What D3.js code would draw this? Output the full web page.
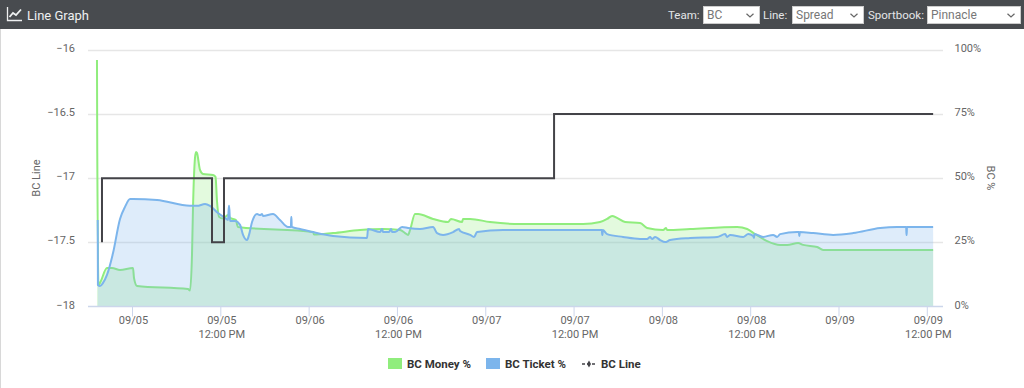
<!DOCTYPE html>
<html>
<head>
<meta charset="utf-8">
<script src="https://cdn.jsdelivr.net/npm/d3@7"></script>
<style>
html,body{margin:0;padding:0;background:#fff;width:1024px;height:388px;overflow:hidden;font-family:Roboto,sans-serif}
#bar{position:absolute;left:0;top:0;width:1024px;height:29px;background:#484b4f}
#title{position:absolute;left:27px;top:8px;color:#eef0f1;font-size:13px;line-height:16px}
.lab{position:absolute;top:8px;color:#e4e6e8;font-size:11.5px;line-height:15px}
select{position:absolute;top:6px;height:18px;font:12px Roboto,sans-serif;color:#777;border:1px solid #ccc;border-radius:0;padding:0 0 0 3px;margin:0;box-sizing:border-box;appearance:none;-webkit-appearance:none;
background:#fff url("data:image/svg+xml,%3Csvg xmlns='http://www.w3.org/2000/svg' width='8' height='5'%3E%3Cpath d='M.5.7L4 4 7.500.7' fill='none' stroke='%23666' stroke-width='1.200'/%3E%3C/svg%3E") no-repeat right 5px center}
#edge{position:absolute;left:0;top:29px;width:1px;height:359px;background:#d8d8d8}
svg{position:absolute;left:0;top:0}
</style>
</head>
<body>
<div id="chart"></div>
<div id="bar">
  <svg width="24" height="29" style="left:6px"><path d="M1.500 7v13.500h14.500" fill="none" stroke="#eef0f1" stroke-width="1.300"/><path d="M3.500 17l3.500-4 3 2 5-5.500" fill="none" stroke="#eef0f1" stroke-width="1.800"/></svg>
  <div id="title">Line Graph</div>
  <div class="lab" style="left:668px">Team:</div>
  <select style="left:703px;width:57px"><option>BC</option></select>
  <div class="lab" style="left:763px">Line:</div>
  <select style="left:792px;width:72px"><option>Spread</option></select>
  <div class="lab" style="left:868px">Sportbook:</div>
  <select style="left:927px;width:94px"><option>Pinnacle</option></select>
</div>
<div id="edge"></div>
<script>
const moneyHours=[-4.76,-4.72,-4.55,-4.35,-3.40,-2.72,-1.63,0.14,0.27,0.68,7.61,7.88,8.15,8.29,8.56,8.70,8.83,9.24,9.65,11.0,11.35,11.55,11.82,12.37,13.05,13.32,14.13,14.27,14.40,24.6,24.73,27.32,30.99,34.11,36.43,37.10,37.51,37.78,38.46,38.87,40.91,42.95,43.35,44.85,44.98,45.94,48.65,52.73,61.29,63.6,64.56,65.23,65.91,67.0,69.04,69.99,72.17,72.57,72.71,75.84,82.23,83.59,84.67,86.3,88.07,89.02,90.51,91.19,93.1,93.91,108.86];
const moneyPct=[96.0,59.8,8.4,9.2,15.0,15.0,14.2,15.0,11.1,8.0,6.8,6.2,20.1,38.8,57.9,60.2,59.8,53.2,51.6,51.2,50.5,41,35,34.3,35.6,34.5,33.7,32,31.0,29.0,28.0,28.6,29.8,30.2,29.8,28.6,27.9,29.8,36.0,36.0,34.1,32.9,34.1,32.9,34.1,34.1,32.9,32.1,32.1,32.9,34.1,35.3,34.5,32.9,32.5,30.6,29.8,30.6,29.8,30.2,31.0,30.2,28.2,25.5,24.0,24.0,24.7,24.0,23.2,22.0,22.0];
const ticketHours=[-4.66,-4.63,-4.35,-3.94,-3.4,-2.58,-1.63,-0.95,-0.27,0.14,3.4,7.88,8.83,9.92,10.6,11.69,12.64,13.05,13.16,13.2,13.32,14.0,14.68,15.09,15.63,15.9,16.31,16.99,17.4,17.67,17.8,19.16,20.11,21.2,21.6,21.63,21.67,21.7,22.83,24.6,27.32,31.94,32.07,33.71,33.98,34.11,34.93,35.2,35.34,35.74,36.7,37.51,39.14,40.91,41.45,42.27,43.63,44.44,44.58,45.94,46.48,46.89,50.42,56.81,63.85,63.89,63.93,63.97,64.56,66.73,69.04,69.99,70.4,70.67,71.08,71.76,72.44,73.12,75.84,79.51,80.6,80.87,81.28,83.05,83.73,84.4,84.53,84.57,85.76,87.12,87.66,88.07,90.38,90.63,90.66,90.7,90.73,92.55,95.27,97.99,101.66,103.97,105.2,105.23,105.27,105.3,108.86];
const ticketPct=[33.7,8.4,8.0,9.2,12.3,20.8,34.1,38.8,41.9,41.9,41.5,39.2,39.2,39.9,39.2,36.4,34.5,33.7,39.2,39.2,33.3,33.3,31.8,27.9,25.9,27.9,32.9,36.0,35.6,36.0,35.3,36.0,33.7,31.0,31.0,34.9,34.9,31.0,30.2,29.0,27.5,26.7,30.2,29.0,30.2,29.0,29.0,30.2,29.0,29.0,31.0,30.6,30.2,31.0,28.6,27.9,29.0,30.2,29.4,27.9,27.1,29.0,29.8,29.8,29.8,27.9,27.9,29.8,28.2,27.1,26.3,26.3,27.1,26.3,27.1,25.9,25.1,25.9,26.7,27.1,28.2,27.1,27.9,27.1,28.2,27.5,26.7,28.2,27.1,27.9,27.1,28.2,29.0,29.0,27.5,27.5,29.0,28.6,27.9,28.6,30.6,31.0,31.0,27.9,27.9,31.0,31.0];
const lineHours=[-4.08,10.87,12.5,57.35,108.86];
const lineValues=[-17.5,-17,-17.5,-17,-16.5];
const leftTicks=[-16,-16.5,-17,-17.5,-18];
const rightTicks=[100,75,50,25,0];
const xTickHours=[0,12,24,36,48,60,72,84,96,108];
const legendItems=["BC Money %","BC Ticket %","BC Line"];

const base=new Date(2023,8,5,0,0,0);
const toDate=h=>new Date(base.getTime()+h*3600000);
const W=1024,H=388,L=88,R=943,T=49.8,B=306.5;
const x=d3.scaleTime().domain([toDate(-5.98),toDate(110.2)]).range([L,R]);
const yL=d3.scaleLinear().domain([-18,-16]).range([B,T]);
const yR=d3.scaleLinear().domain([0,100]).range([B,T]);
const svg=d3.select("#chart").append("svg").attr("width",W).attr("height",H);
const gridC="#e6e6e6",txt="#666",font="Roboto,sans-serif";

svg.append("g").selectAll("line").data(leftTicks.slice(0,4)).join("line")
  .attr("x1",L).attr("x2",R).attr("y1",d=>Math.round(yL(d))+.5).attr("y2",d=>Math.round(yL(d))+.5)
  .attr("stroke",gridC).attr("stroke-width",1.5);

const zip=(hs,vs)=>hs.map((h,i)=>({t:toDate(h),v:vs[i]}));
const curve=d3.curveMonotoneX;
const area=d3.area().x(d=>x(d.t)).y0(B).y1(d=>yR(d.v)).curve(curve);
const pline=d3.line().x(d=>x(d.t)).y(d=>yR(d.v)).curve(curve);
const money=zip(moneyHours,moneyPct),ticket=zip(ticketHours,ticketPct);
const cM="#90ed7d",cT="#7cb5ec",cL="#434348";

svg.append("path").attr("d",area(money)).attr("fill",cM).attr("fill-opacity",.25);
svg.append("path").attr("d",pline(money)).attr("fill","none").attr("stroke",cM).attr("stroke-width",2).attr("stroke-linejoin","round");
svg.append("path").attr("d",area(ticket)).attr("fill",cT).attr("fill-opacity",.25);
svg.append("path").attr("d",pline(ticket)).attr("fill","none").attr("stroke",cT).attr("stroke-width",2).attr("stroke-linejoin","round");
svg.append("path").datum(zip(lineHours,lineValues))
  .attr("d",d3.line().x(d=>x(d.t)).y(d=>yL(d.v)).curve(d3.curveStepBefore))
  .attr("fill","none").attr("stroke",cL).attr("stroke-width",2);

// x axis
const xAxis=d3.axisBottom(x).tickValues(xTickHours.map(toDate)).tickSize(10).tickPadding(3)
  .tickFormat(d3.timeFormat("%m/%d"));
const gx=svg.append("g").attr("transform",`translate(0,${B})`).call(xAxis);
gx.select(".domain").attr("d",`M${L},0H${R}`).attr("stroke","#ccd6eb").attr("stroke-width",1.500);
gx.selectAll(".tick line").attr("stroke","#ccd6eb");
gx.selectAll(".tick text").attr("fill",txt).style("font",`11px ${font}`).attr("dy",0)
  .each(function(d){
    const s=d3.select(this),label=d3.timeFormat("%m/%d")(d);
    s.text(null);
    s.append("tspan").attr("x",1).attr("y",17).text(label);
    if(d.getHours()===12) s.append("tspan").attr("x",1).attr("y",31).text(d3.timeFormat("%-I:%M %p")(d));
  });

// y axes
const minus=d=>String(d).replace("-","\u2212");
const gl=svg.append("g").attr("transform",`translate(${L},0)`)
  .call(d3.axisLeft(yL).tickValues(leftTicks).tickSize(0).tickPadding(13).tickFormat(minus));
gl.select(".domain").remove();
gl.selectAll("text").attr("fill",txt).style("font",`11px ${font}`).attr("dy","0.14em");
const gr=svg.append("g").attr("transform",`translate(${R},0)`)
  .call(d3.axisRight(yR).tickValues(rightTicks).tickSize(0).tickPadding(11.5).tickFormat(d=>d+"%"));
gr.select(".domain").remove();
gr.selectAll("text").attr("fill",txt).style("font",`11px ${font}`).attr("dy","0.14em");

svg.append("text").attr("transform","translate(40,178) rotate(-90)").attr("text-anchor","middle")
  .attr("fill",txt).style("font",`11px ${font}`).text("BC Line");
svg.append("text").attr("transform","translate(987,178) rotate(90)").attr("text-anchor","middle")
  .attr("fill",txt).style("font",`11px ${font}`).text("BC %");

// legend
const lg=svg.append("g").style("font",`bold 11.5px ${font}`).attr("fill","#333");
const sw=[[388,cM],[486,cT]];
sw.forEach(([px,c],i)=>{
  lg.append("rect").attr("x",px).attr("y",358).attr("width",14).attr("height",11).attr("fill",c);
  lg.append("text").attr("x",px+19).attr("y",368).text(legendItems[i]);
});
lg.append("line").attr("x1",582).attr("x2",596).attr("y1",364).attr("y2",364).attr("stroke",cL).attr("stroke-width",1.500).attr("stroke-dasharray","3 2");
lg.append("path").attr("d",d3.symbol(d3.symbolDiamond,14)()).attr("transform","translate(589,364)").attr("fill",cL);
lg.append("text").attr("x",601).attr("y",368).text(legendItems[2]);
</script>
</body>
</html>
